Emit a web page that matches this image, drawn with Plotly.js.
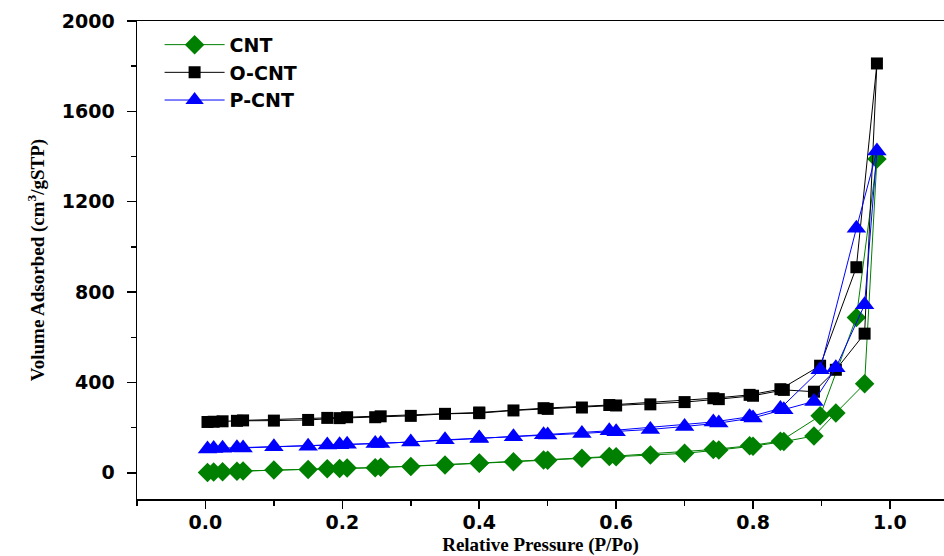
<!DOCTYPE html>
<html>
<head>
<meta charset="utf-8">
<script src="https://cdn.plot.ly/plotly-3.0.1.min.js"></script>
<style>html,body{margin:0;padding:0;background:#fff;}#chart{width:944px;height:556px;}</style>
</head>
<body>
<div id="chart"></div>
<script>
// Relative pressure, adsorption branch
const pAds = [0.003, 0.012, 0.025, 0.046, 0.1, 0.15, 0.196, 0.248, 0.3, 0.35, 0.4, 0.45, 0.5, 0.55, 0.6, 0.65, 0.7, 0.75, 0.8, 0.845, 0.889, 0.921, 0.963, 0.981];
// Relative pressure, desorption branch
const pDes = [0.951, 0.898, 0.84, 0.795, 0.742, 0.59, 0.494, 0.4, 0.256, 0.207, 0.178, 0.055];

const cntAds  = [1, 3, 5, 7, 12, 15, 19, 22, 28, 34, 42, 49, 56, 64, 71, 79, 86, 101, 118, 138, 163, 265, 394, 1389];
const cntDes  = [688, 252, 140, 120, 103, 72, 57, 43, 24, 21, 18, 8];

const ocntAds = [225, 226, 228, 230, 231, 234, 242, 246, 252, 261, 264, 276, 283, 289, 298, 303, 313, 326, 341, 367, 359, 456, 616, 1812];
const ocntDes = [910, 474, 370, 345, 330, 300, 286, 267, 250, 246, 243, 232];

const pcntAds = [105, 107, 109, 111, 115, 118, 124, 130, 136, 146, 154, 160, 167, 174, 182, 192, 205, 220, 243, 279, 316, 465, 744, 1424];
const pcntDes = [1082, 456, 285, 248, 225, 186, 168, 152, 130, 126, 123, 110];

const seriesNames = ['CNT', 'O-CNT', 'P-CNT'];
const xTickVals = [0, 0.2, 0.4, 0.6, 0.8, 1.0];
const xTickText = ['0.0', '0.2', '0.4', '0.6', '0.8', '1.0'];
const yTickVals = [0, 400, 800, 1200, 1600, 2000];

const px = pAds.concat(pDes);
function mk(name, ads, des, color, symbol, size) {
  return {
    type: 'scatter', mode: 'lines+markers', name: name,
    x: px, y: ads.concat(des),
    line: {color: color, width: 1},
    marker: {color: color, symbol: symbol, size: size}
  };
}

const data = [
  mk(seriesNames[0], cntAds, cntDes, '#008000', 'diamond', 15),
  mk(seriesNames[1], ocntAds, ocntDes, '#000000', 'square', 12),
  mk(seriesNames[2], pcntAds, pcntDes, '#0000ff', 'triangle-up', 17)
];

const tickFont = {family: 'DejaVu Sans', size: 19, color: '#000', weight: 'bold'};
const titleFont = {family: 'Liberation Serif', size: 19, color: '#000', weight: 'bold'};

const layout = {
  width: 944, height: 556,
  margin: {l: 137, r: 0, t: 21, b: 57},
  paper_bgcolor: '#fff', plot_bgcolor: '#fff',
  showlegend: true,
  legend: {
    x: 0.028, y: 0.99, xanchor: 'left', yanchor: 'top',
    font: {family: 'DejaVu Sans', size: 19, color: '#000', weight: 'bold'},
    bgcolor: 'rgba(0,0,0,0)', itemwidth: 60, tracegroupgap: 0
  },
  xaxis: {
    range: [-0.1, 1.079],
    tickvals: xTickVals, ticktext: xTickText,
    ticks: 'outside', ticklen: 8, tickwidth: 1.5, tickcolor: '#000',
    minor: {dtick: 0.1, ticks: 'outside', ticklen: 5, tickwidth: 1.5, tickcolor: '#000'},
    showline: true, linecolor: '#000', linewidth: 1.5, mirror: true,
    showgrid: false, zeroline: false,
    tickfont: tickFont, ticklabelstandoff: -2,
    title: {text: 'Relative Pressure (P/Po)', font: titleFont, standoff: 8}
  },
  yaxis: {
    range: [-116, 2000],
    tickvals: yTickVals,
    ticks: 'outside', ticklen: 9, tickwidth: 1.5, tickcolor: '#000',
    minor: {tickvals: [200, 600, 1000, 1400, 1800], ticks: 'outside', ticklen: 5, tickwidth: 1.5, tickcolor: '#000'},
    showline: true, linecolor: '#000', linewidth: 1.5, mirror: false,
    showgrid: false, zeroline: false,
    tickfont: tickFont, ticklabelstandoff: 8,
    title: {text: 'Volume Adsorbed (cm<sup>3</sup>/gSTP)', font: titleFont, standoff: 12}
  }
};

Plotly.newPlot('chart', data, layout, {displayModeBar: false, staticPlot: true});
</script>
</body>
</html>
